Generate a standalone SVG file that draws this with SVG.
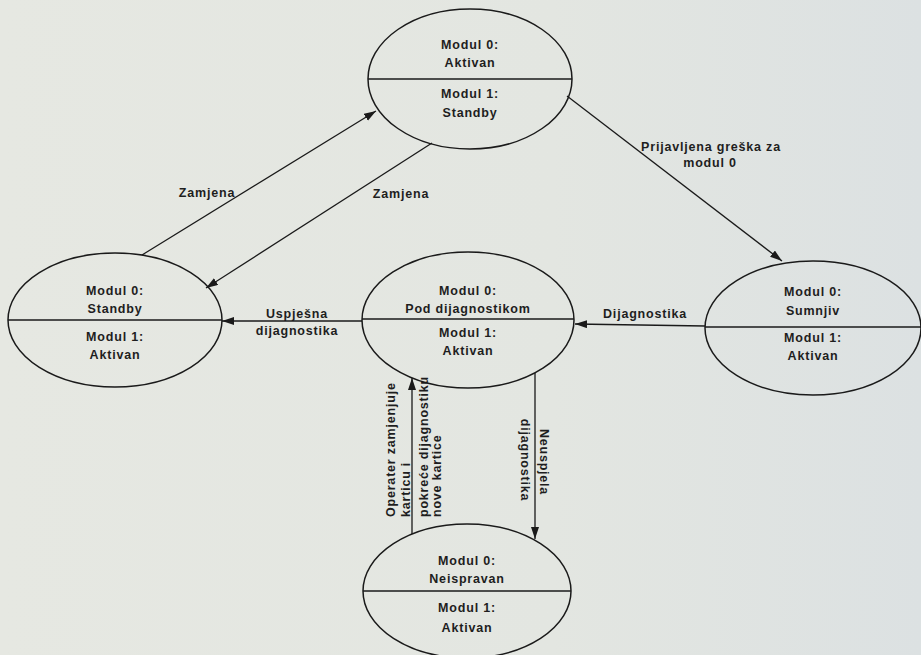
<svg xmlns="http://www.w3.org/2000/svg" width="921" height="655" viewBox="0 0 921 655">
  <defs>
    <linearGradient id="bg" x1="0" y1="0" x2="1" y2="0">
      <stop offset="0" stop-color="#e6e8e2"/>
      <stop offset="0.6" stop-color="#e3e6e1"/>
      <stop offset="1" stop-color="#dce1e2"/>
    </linearGradient>
    <marker id="arr" markerUnits="userSpaceOnUse" markerWidth="13" markerHeight="9" refX="12" refY="4" orient="auto">
      <path d="M0,0 L12,4 L0,8 z" fill="#1a1a1a"/>
    </marker>
    <style>
      .el { fill: none; stroke: #1a1a1a; stroke-width: 1.5; }
      .dv { stroke: #1a1a1a; stroke-width: 1.5; }
      .cn { stroke: #1a1a1a; stroke-width: 1.3; fill: none; marker-end: url(#arr); }
      text { font-family: "Liberation Sans", Arial, sans-serif; font-size: 12.5px; font-weight: bold; fill: #1e1e1e; letter-spacing: 0.8px; }
      .c { text-anchor: middle; }
    </style>
  </defs>
  <rect x="0" y="0" width="921" height="655" fill="url(#bg)"/>

  <g id="connectors">
    <line class="cn" x1="142" y1="255" x2="376" y2="111"/>
    <line class="cn" x1="432" y1="143" x2="206" y2="288"/>
    <line class="cn" x1="567" y1="96" x2="782" y2="261"/>
    <line class="cn" x1="362" y1="321" x2="222" y2="321"/>
    <line class="cn" x1="705" y1="326" x2="575" y2="324"/>
    <line class="cn" x1="412" y1="534" x2="412" y2="378"/>
    <line class="cn" x1="535" y1="373" x2="535" y2="539"/>
  </g>

  <g id="labels">
    <text class="c" x="207" y="197">Zamjena</text>
    <text class="c" x="401" y="198">Zamjena</text>
    <text class="c" x="711" y="151">Prijavljena greška za</text>
    <text class="c" x="710" y="167">modul 0</text>
    <text class="c" x="297" y="318">Uspješna</text>
    <text class="c" x="297" y="335">dijagnostika</text>
    <text class="c" x="645" y="318">Dijagnostika</text>
    <text transform="translate(395,517) rotate(-90)">Operater zamjenjuje</text>
    <text transform="translate(410,517) rotate(-90)">karticu i</text>
    <text transform="translate(428,517) rotate(-90)">pokreće dijagnostiku</text>
    <text transform="translate(441,517) rotate(-90)">nove kartice</text>
    <text class="c" transform="translate(540,462) rotate(90)">Neuspjela</text>
    <text class="c" transform="translate(521,460) rotate(90)">dijagnostika</text>
  </g>

  <g id="node-top">
    <ellipse class="el" cx="470" cy="79" rx="102" ry="70"/>
    <line class="dv" x1="368" y1="79" x2="572" y2="79"/>
    <text class="c" x="470" y="49">Modul 0:</text>
    <text class="c" x="470" y="67">Aktivan</text>
    <text class="c" x="470" y="98">Modul 1:</text>
    <text class="c" x="470" y="117">Standby</text>
  </g>

  <g id="node-left">
    <ellipse class="el" cx="115" cy="320" rx="107" ry="67"/>
    <line class="dv" x1="8" y1="320" x2="222" y2="320"/>
    <text class="c" x="115" y="295">Modul 0:</text>
    <text class="c" x="115" y="313">Standby</text>
    <text class="c" x="115" y="341">Modul 1:</text>
    <text class="c" x="115" y="359">Aktivan</text>
  </g>

  <g id="node-center">
    <ellipse class="el" cx="468" cy="320" rx="106" ry="68"/>
    <line class="dv" x1="362" y1="319" x2="574" y2="319"/>
    <text class="c" x="468" y="295">Modul 0:</text>
    <text class="c" x="468" y="313">Pod dijagnostikom</text>
    <text class="c" x="468" y="337">Modul 1:</text>
    <text class="c" x="468" y="355">Aktivan</text>
  </g>

  <g id="node-right">
    <ellipse class="el" cx="813" cy="328" rx="108" ry="67"/>
    <line class="dv" x1="705" y1="327" x2="921" y2="327"/>
    <text class="c" x="813" y="296">Modul 0:</text>
    <text class="c" x="813" y="315">Sumnjiv</text>
    <text class="c" x="813" y="342">Modul 1:</text>
    <text class="c" x="813" y="360">Aktivan</text>
  </g>

  <g id="node-bottom">
    <ellipse class="el" cx="467" cy="591" rx="104" ry="67"/>
    <line class="dv" x1="363" y1="591" x2="571" y2="591"/>
    <text class="c" x="467" y="565">Modul 0:</text>
    <text class="c" x="467" y="583">Neispravan</text>
    <text class="c" x="467" y="612">Modul 1:</text>
    <text class="c" x="467" y="632">Aktivan</text>
  </g>
</svg>
